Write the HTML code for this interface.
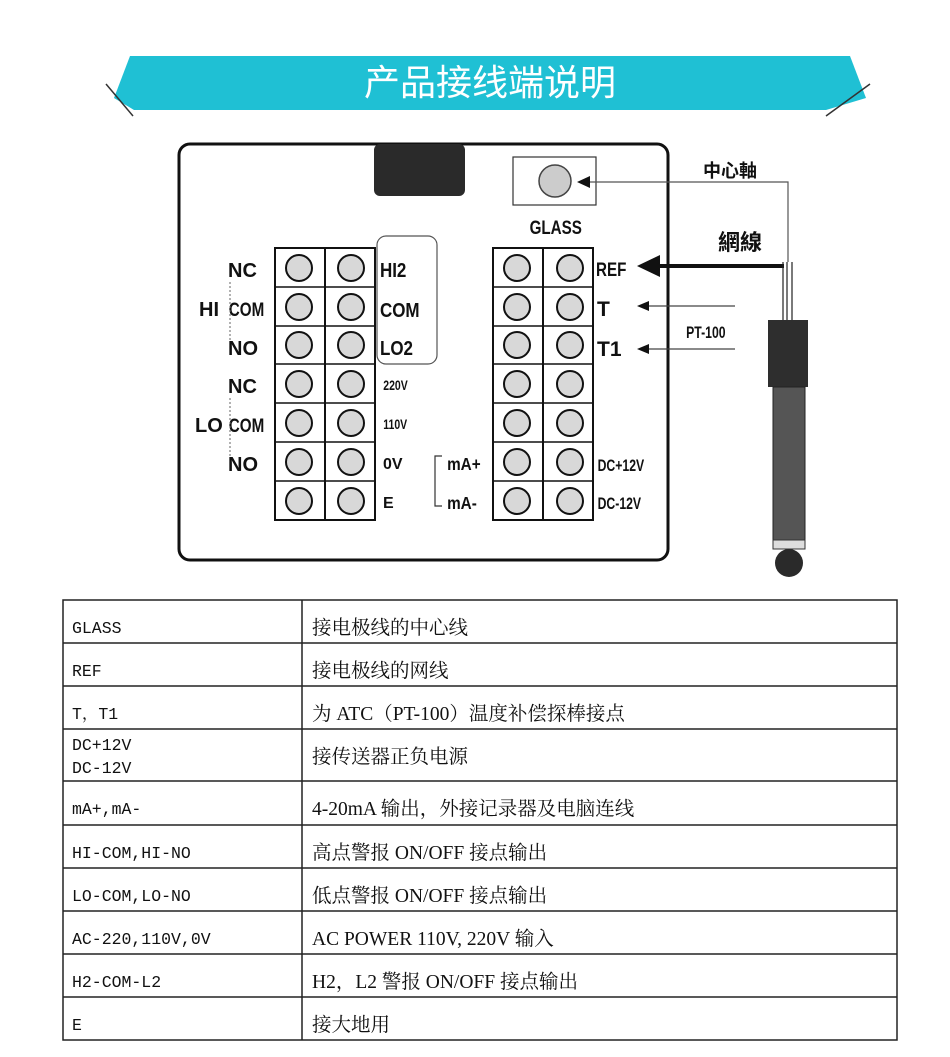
<!DOCTYPE html>
<html><head><meta charset="utf-8"><style>
body{margin:0;background:#fff;width:950px;height:1057px;overflow:hidden}
svg{display:block}
.b{font-family:"Liberation Sans","Noto Sans CJK SC",sans-serif;font-weight:bold;fill:#111}
.tl{font-family:"Liberation Mono","Noto Serif CJK SC",monospace;font-size:16.5px;fill:#111}
.tr{font-family:"Liberation Serif","Noto Serif CJK SC",serif;font-size:19.5px;fill:#111}
</style></head><body>
<svg width="950" height="1057" viewBox="0 0 950 1057" xmlns="http://www.w3.org/2000/svg">
<polygon points="130,56 850,56 866,98 826,110 134,110 114,98" fill="#1fc0d4"/>
<line x1="106" y1="84" x2="133" y2="116" stroke="#333" stroke-width="1.5"/>
<line x1="870" y1="84" x2="826" y2="116" stroke="#333" stroke-width="1.5"/>
<text x="490" y="95" text-anchor="middle" font-family="'Liberation Sans','Noto Sans CJK SC',sans-serif" font-size="36" fill="#fff">产品接线端说明</text>

<rect x="179" y="144" width="489" height="416" rx="11" fill="none" stroke="#111" stroke-width="3"/>
<rect x="374" y="144" width="91" height="52" rx="6" fill="#2a2a2a"/>
<rect x="377" y="236" width="60" height="128" rx="9" fill="none" stroke="#555" stroke-width="1.2"/>

<g stroke="#111" stroke-width="2" fill="none">
<rect x="275" y="248" width="100" height="272"/>
<line x1="325" y1="248" x2="325" y2="520"/>
<rect x="493" y="248" width="100" height="272"/>
<line x1="543" y1="248" x2="543" y2="520"/>
</g>
<g stroke="#111" stroke-width="1.5">
<line x1="275" y1="287" x2="375" y2="287"/><line x1="275" y1="326" x2="375" y2="326"/><line x1="275" y1="364" x2="375" y2="364"/><line x1="275" y1="403" x2="375" y2="403"/><line x1="275" y1="442" x2="375" y2="442"/><line x1="275" y1="481" x2="375" y2="481"/>
<line x1="493" y1="287" x2="593" y2="287"/><line x1="493" y1="326" x2="593" y2="326"/><line x1="493" y1="364" x2="593" y2="364"/><line x1="493" y1="403" x2="593" y2="403"/><line x1="493" y1="442" x2="593" y2="442"/><line x1="493" y1="481" x2="593" y2="481"/>
</g>
<g fill="#d8d8d8" stroke="#111" stroke-width="2">
<circle cx="299" cy="268" r="13"/><circle cx="351" cy="268" r="13"/><circle cx="517" cy="268" r="13"/><circle cx="570" cy="268" r="13"/>
<circle cx="299" cy="307" r="13"/><circle cx="351" cy="307" r="13"/><circle cx="517" cy="307" r="13"/><circle cx="570" cy="307" r="13"/>
<circle cx="299" cy="345" r="13"/><circle cx="351" cy="345" r="13"/><circle cx="517" cy="345" r="13"/><circle cx="570" cy="345" r="13"/>
<circle cx="299" cy="384" r="13"/><circle cx="351" cy="384" r="13"/><circle cx="517" cy="384" r="13"/><circle cx="570" cy="384" r="13"/>
<circle cx="299" cy="423" r="13"/><circle cx="351" cy="423" r="13"/><circle cx="517" cy="423" r="13"/><circle cx="570" cy="423" r="13"/>
<circle cx="299" cy="462" r="13"/><circle cx="351" cy="462" r="13"/><circle cx="517" cy="462" r="13"/><circle cx="570" cy="462" r="13"/>
<circle cx="299" cy="501" r="13"/><circle cx="351" cy="501" r="13"/><circle cx="517" cy="501" r="13"/><circle cx="570" cy="501" r="13"/>
</g>
<g class="b" font-size="20">
<text x="228" y="277">NC</text><text x="228" y="355">NO</text><text x="228" y="393">NC</text><text x="228" y="471">NO</text>
<text x="199" y="316">HI</text><text x="195" y="432">LO</text>
</g>
<g class="b" font-size="19" transform="scale(0.8,1)">
<text x="286" y="316">COM</text><text x="286" y="432">COM</text>
</g>
<line x1="230" y1="282" x2="230" y2="340" stroke="#666" stroke-dasharray="2,2"/>
<line x1="230" y1="398" x2="230" y2="456" stroke="#666" stroke-dasharray="2,2"/>
<g class="b" font-size="20" transform="scale(0.85,1)">
<text x="447" y="277">HI2</text><text x="447" y="317">COM</text><text x="447" y="355">LO2</text>
</g>
<g class="b" font-size="14" transform="scale(0.75,1)">
<text x="511" y="390">220V</text><text x="511" y="429">110V</text>
</g>
<text x="383" y="469" class="b" font-size="16">0V</text>
<text x="383" y="508" class="b" font-size="16">E</text>
<polyline points="442,456 435,456 435,506 442,506" fill="none" stroke="#333" stroke-width="1.2"/>
<g class="b" font-size="18" transform="scale(0.85,1)">
<text x="526" y="470">mA+</text><text x="526" y="509">mA-</text>
</g>
<rect x="513" y="157" width="83" height="48" fill="none" stroke="#333" stroke-width="1.2"/>
<circle cx="555" cy="181" r="16" fill="#ccc" stroke="#444" stroke-width="1.5"/>
<g class="b" font-size="19" transform="scale(0.8,1)"><text x="662" y="234">GLASS</text>
<text x="745" y="276">REF</text></g>
<text x="597" y="316" class="b" font-size="21">T</text>
<text x="597" y="356" class="b" font-size="21">T1</text>
<g class="b" font-size="17" transform="scale(0.72,1)">
<text x="830" y="471">DC+12V</text><text x="830" y="509">DC-12V</text>
<text x="953" y="338">PT-100</text>
</g>
<polyline points="788,262 788,182 583,182" fill="none" stroke="#555" stroke-width="1.2"/>
<polygon points="577,182 590,176 590,188" fill="#111"/>
<text x="730" y="177" text-anchor="middle" class="b" font-size="18">中心軸</text>
<line x1="652" y1="266" x2="784" y2="266" stroke="#111" stroke-width="4"/>
<polygon points="637,266 660,255 660,277" fill="#111"/>
<text x="740" y="250" text-anchor="middle" class="b" font-size="22">網線</text>
<line x1="645" y1="306" x2="735" y2="306" stroke="#444" stroke-width="1.2"/>
<polygon points="637,306 649,301 649,311" fill="#111"/>
<line x1="645" y1="349" x2="735" y2="349" stroke="#444" stroke-width="1.2"/>
<polygon points="637,349 649,344 649,354" fill="#111"/>
<g stroke="#222" stroke-width="1.2"><line x1="783" y1="262" x2="783" y2="320"/><line x1="787" y1="262" x2="787" y2="320"/><line x1="792" y1="262" x2="792" y2="320"/></g>
<rect x="768" y="320" width="40" height="67" fill="#2e2e2e"/>
<rect x="773" y="387" width="32" height="153" fill="#555" stroke="#222"/>
<rect x="773" y="540" width="32" height="9" fill="#ddd" stroke="#333"/>
<circle cx="789" cy="563" r="14" fill="#2a2a2a"/>

<g stroke="#222" stroke-width="1.5" fill="none">
<rect x="63" y="600" width="834" height="440"/>
<line x1="302" y1="600" x2="302" y2="1040"/>
<line x1="63" y1="643" x2="897" y2="643"/><line x1="63" y1="686" x2="897" y2="686"/><line x1="63" y1="729" x2="897" y2="729"/><line x1="63" y1="781" x2="897" y2="781"/><line x1="63" y1="825" x2="897" y2="825"/><line x1="63" y1="868" x2="897" y2="868"/><line x1="63" y1="911" x2="897" y2="911"/><line x1="63" y1="954" x2="897" y2="954"/><line x1="63" y1="997" x2="897" y2="997"/>
</g>
<g class="tl">
<text x="72" y="633">GLASS</text><text x="72" y="676">REF</text><text x="72" y="719">T，T1</text>
<text x="72" y="750">DC+12V</text><text x="72" y="773">DC-12V</text>
<text x="72" y="814">mA+,mA-</text><text x="72" y="858">HI-COM,HI-NO</text><text x="72" y="901">LO-COM,LO-NO</text>
<text x="72" y="944">AC-220,110V,0V</text><text x="72" y="987">H2-COM-L2</text><text x="72" y="1030">E</text>
</g>
<g class="tr">
<text x="312" y="634">接电极线的中心线</text><text x="312" y="677">接电极线的网线</text>
<text x="312" y="720">为 ATC（PT-100）温度补偿探棒接点</text><text x="312" y="763">接传送器正负电源</text>
<text x="312" y="815">4-20mA 输出，外接记录器及电脑连线</text><text x="312" y="859">高点警报 ON/OFF 接点输出</text>
<text x="312" y="902">低点警报 ON/OFF 接点输出</text><text x="312" y="945">AC POWER 110V, 220V 输入</text>
<text x="312" y="988">H2，L2 警报 ON/OFF 接点输出</text><text x="312" y="1031">接大地用</text>
</g>
</svg>
</body></html>
